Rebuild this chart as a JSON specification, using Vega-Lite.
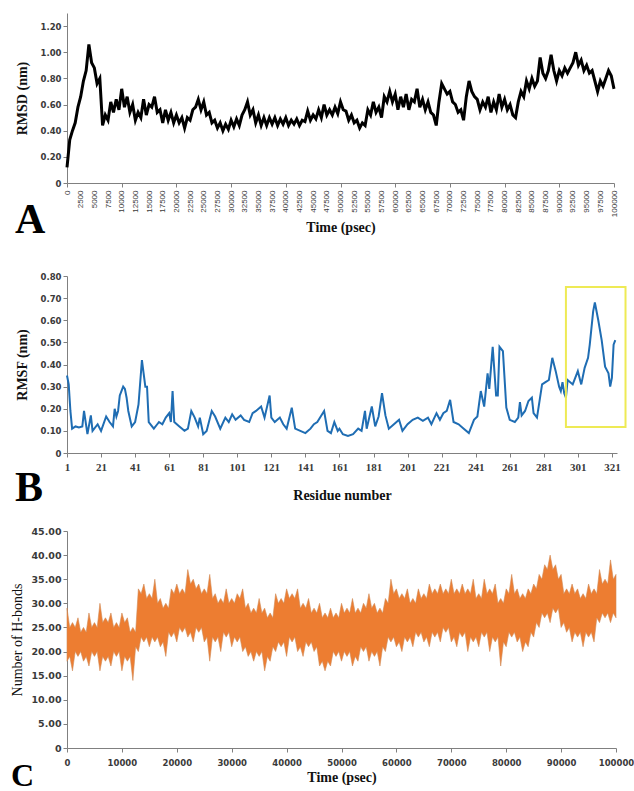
{
  "$schema": "https://vega.github.io/schema/vega-lite/v6.json",
  "background": "white",
  "padding": {"left": 10, "top": 13, "right": 2, "bottom": 0},
  "spacing": 31,
  "config": {
    "view": {"stroke": null},
    "axis": {"grid": false, "domainColor": "#808080", "tickColor": "#808080", "tickSize": 4, "labelColor": "#3a3a3a", "titleColor": "#111111", "labelFlush": false, "labelOverlap": false}
  },
  "datasets": {
    "rmsd": [
      {"t":0,"v":0.12},{"t":500,"v":0.33},{"t":1000,"v":0.40},{"t":1500,"v":0.46},{"t":2000,"v":0.58},{"t":2500,"v":0.66},{"t":3000,"v":0.78},{"t":3500,"v":0.86},{"t":4000,"v":1.06},{"t":4500,"v":0.92},
      {"t":5000,"v":0.88},{"t":5500,"v":0.76},{"t":6000,"v":0.80},{"t":6500,"v":0.44},{"t":7000,"v":0.52},{"t":7500,"v":0.48},{"t":8000,"v":0.62},{"t":8500,"v":0.54},{"t":9000,"v":0.64},{"t":9500,"v":0.56},
      {"t":10000,"v":0.72},{"t":10500,"v":0.58},{"t":11000,"v":0.66},{"t":11500,"v":0.54},{"t":12000,"v":0.60},{"t":12500,"v":0.48},{"t":13000,"v":0.54},{"t":13500,"v":0.50},{"t":14000,"v":0.64},{"t":14500,"v":0.52},
      {"t":15000,"v":0.60},{"t":15500,"v":0.58},{"t":16000,"v":0.66},{"t":16500,"v":0.54},{"t":17000,"v":0.56},{"t":17500,"v":0.46},{"t":18000,"v":0.56},{"t":18500,"v":0.48},{"t":19000,"v":0.54},{"t":19500,"v":0.46},
      {"t":20000,"v":0.52},{"t":20500,"v":0.46},{"t":21000,"v":0.50},{"t":21500,"v":0.42},{"t":22000,"v":0.50},{"t":22500,"v":0.48},{"t":23000,"v":0.56},{"t":23500,"v":0.58},{"t":24000,"v":0.64},{"t":24500,"v":0.56},
      {"t":25000,"v":0.62},{"t":25500,"v":0.52},{"t":26000,"v":0.54},{"t":26500,"v":0.46},{"t":27000,"v":0.48},{"t":27500,"v":0.42},{"t":28000,"v":0.46},{"t":28500,"v":0.40},{"t":29000,"v":0.45},{"t":29500,"v":0.41},
      {"t":30000,"v":0.48},{"t":30500,"v":0.43},{"t":31000,"v":0.49},{"t":31500,"v":0.44},{"t":32000,"v":0.52},{"t":32500,"v":0.56},{"t":33000,"v":0.62},{"t":33500,"v":0.52},{"t":34000,"v":0.56},{"t":34500,"v":0.46},
      {"t":35000,"v":0.52},{"t":35500,"v":0.44},{"t":36000,"v":0.50},{"t":36500,"v":0.44},{"t":37000,"v":0.50},{"t":37500,"v":0.45},{"t":38000,"v":0.50},{"t":38500,"v":0.44},{"t":39000,"v":0.49},{"t":39500,"v":0.45},
      {"t":40000,"v":0.50},{"t":40500,"v":0.44},{"t":41000,"v":0.48},{"t":41500,"v":0.45},{"t":42000,"v":0.49},{"t":42500,"v":0.44},{"t":43000,"v":0.48},{"t":43500,"v":0.47},{"t":44000,"v":0.55},{"t":44500,"v":0.48},
      {"t":45000,"v":0.52},{"t":45500,"v":0.49},{"t":46000,"v":0.56},{"t":46500,"v":0.50},{"t":47000,"v":0.60},{"t":47500,"v":0.52},{"t":48000,"v":0.56},{"t":48500,"v":0.52},{"t":49000,"v":0.58},{"t":49500,"v":0.53},
      {"t":50000,"v":0.62},{"t":50500,"v":0.56},{"t":51000,"v":0.55},{"t":51500,"v":0.48},{"t":52000,"v":0.52},{"t":52500,"v":0.46},{"t":53000,"v":0.48},{"t":53500,"v":0.42},{"t":54000,"v":0.46},{"t":54500,"v":0.44},
      {"t":55000,"v":0.56},{"t":55500,"v":0.52},{"t":56000,"v":0.62},{"t":56500,"v":0.54},{"t":57000,"v":0.58},{"t":57500,"v":0.50},{"t":58000,"v":0.66},{"t":58500,"v":0.62},{"t":59000,"v":0.70},{"t":59500,"v":0.62},
      {"t":60000,"v":0.68},{"t":60500,"v":0.56},{"t":61000,"v":0.66},{"t":61500,"v":0.58},{"t":62000,"v":0.68},{"t":62500,"v":0.56},{"t":63000,"v":0.64},{"t":63500,"v":0.62},{"t":64000,"v":0.72},{"t":64500,"v":0.58},
      {"t":65000,"v":0.64},{"t":65500,"v":0.56},{"t":66000,"v":0.62},{"t":66500,"v":0.54},{"t":67000,"v":0.52},{"t":67500,"v":0.44},{"t":68000,"v":0.62},{"t":68500,"v":0.76},{"t":69000,"v":0.72},{"t":69500,"v":0.68},
      {"t":70000,"v":0.70},{"t":70500,"v":0.62},{"t":71000,"v":0.60},{"t":71500,"v":0.54},{"t":72000,"v":0.56},{"t":72500,"v":0.48},{"t":73000,"v":0.66},{"t":73500,"v":0.78},{"t":74000,"v":0.70},{"t":74500,"v":0.66},
      {"t":75000,"v":0.64},{"t":75500,"v":0.56},{"t":76000,"v":0.62},{"t":76500,"v":0.58},{"t":77000,"v":0.66},{"t":77500,"v":0.54},{"t":78000,"v":0.62},{"t":78500,"v":0.56},{"t":79000,"v":0.68},{"t":79500,"v":0.58},
      {"t":80000,"v":0.64},{"t":80500,"v":0.56},{"t":81000,"v":0.60},{"t":81500,"v":0.52},{"t":82000,"v":0.50},{"t":82500,"v":0.62},{"t":83000,"v":0.70},{"t":83500,"v":0.66},{"t":84000,"v":0.78},{"t":84500,"v":0.72},
      {"t":85000,"v":0.80},{"t":85500,"v":0.74},{"t":86000,"v":0.78},{"t":86500,"v":0.96},{"t":87000,"v":0.84},{"t":87500,"v":0.80},{"t":88000,"v":0.86},{"t":88500,"v":0.98},{"t":89000,"v":0.86},{"t":89500,"v":0.78},
      {"t":90000,"v":0.86},{"t":90500,"v":0.82},{"t":91000,"v":0.88},{"t":91500,"v":0.84},{"t":92000,"v":0.88},{"t":92500,"v":0.92},{"t":93000,"v":1.00},{"t":93500,"v":0.90},{"t":94000,"v":0.94},{"t":94500,"v":0.86},
      {"t":95000,"v":0.90},{"t":95500,"v":0.84},{"t":96000,"v":0.86},{"t":96500,"v":0.78},{"t":97000,"v":0.70},{"t":97500,"v":0.78},{"t":98000,"v":0.74},{"t":98500,"v":0.80},{"t":99000,"v":0.86},{"t":99500,"v":0.82},
      {"t":100000,"v":0.72}
    ],
    "rmsf": [
      {"r":1,"v":0.35},{"r":2,"v":0.31},{"r":3,"v":0.19},{"r":4,"v":0.11},{"r":6,"v":0.12},{"r":8,"v":0.115},{"r":10,"v":0.12},{"r":11,"v":0.19},{"r":13,"v":0.085},{"r":15,"v":0.17},
      {"r":16,"v":0.10},{"r":19,"v":0.13},{"r":21,"v":0.10},{"r":24,"v":0.165},{"r":26,"v":0.14},{"r":28,"v":0.12},{"r":29,"v":0.20},{"r":30,"v":0.165},{"r":31,"v":0.19},{"r":32,"v":0.26},
      {"r":34,"v":0.30},{"r":35,"v":0.29},{"r":36,"v":0.25},{"r":37,"v":0.19},{"r":39,"v":0.12},{"r":41,"v":0.14},{"r":43,"v":0.22},{"r":45,"v":0.42},{"r":46,"v":0.36},{"r":47,"v":0.30},
      {"r":48,"v":0.30},{"r":49,"v":0.14},{"r":52,"v":0.11},{"r":54,"v":0.13},{"r":55,"v":0.14},{"r":57,"v":0.13},{"r":59,"v":0.16},{"r":61,"v":0.18},{"r":62,"v":0.14},{"r":63,"v":0.28},
      {"r":64,"v":0.14},{"r":67,"v":0.12},{"r":70,"v":0.10},{"r":72,"v":0.11},{"r":74,"v":0.19},{"r":76,"v":0.16},{"r":78,"v":0.12},{"r":79,"v":0.16},{"r":81,"v":0.085},{"r":83,"v":0.10},
      {"r":86,"v":0.19},{"r":88,"v":0.165},{"r":91,"v":0.11},{"r":94,"v":0.16},{"r":96,"v":0.14},{"r":98,"v":0.175},{"r":100,"v":0.15},{"r":103,"v":0.17},{"r":105,"v":0.15},{"r":108,"v":0.14},
      {"r":110,"v":0.18},{"r":112,"v":0.19},{"r":115,"v":0.21},{"r":117,"v":0.16},{"r":120,"v":0.26},{"r":121,"v":0.16},{"r":123,"v":0.14},{"r":126,"v":0.16},{"r":128,"v":0.13},{"r":130,"v":0.11},
      {"r":133,"v":0.205},{"r":135,"v":0.11},{"r":138,"v":0.10},{"r":141,"v":0.09},{"r":144,"v":0.11},{"r":146,"v":0.13},{"r":148,"v":0.14},{"r":150,"v":0.165},{"r":152,"v":0.19},{"r":154,"v":0.10},
      {"r":156,"v":0.09},{"r":158,"v":0.14},{"r":160,"v":0.10},{"r":161,"v":0.11},{"r":163,"v":0.085},{"r":166,"v":0.077},{"r":169,"v":0.085},{"r":172,"v":0.11},{"r":174,"v":0.10},{"r":176,"v":0.19},
      {"r":177,"v":0.11},{"r":180,"v":0.21},{"r":182,"v":0.12},{"r":184,"v":0.165},{"r":186,"v":0.27},{"r":188,"v":0.17},{"r":190,"v":0.11},{"r":193,"v":0.13},{"r":196,"v":0.15},{"r":198,"v":0.10},
      {"r":201,"v":0.13},{"r":204,"v":0.15},{"r":207,"v":0.16},{"r":210,"v":0.145},{"r":213,"v":0.16},{"r":215,"v":0.13},{"r":218,"v":0.18},{"r":220,"v":0.15},{"r":222,"v":0.18},{"r":224,"v":0.19},
      {"r":226,"v":0.24},{"r":228,"v":0.14},{"r":231,"v":0.13},{"r":234,"v":0.11},{"r":237,"v":0.09},{"r":240,"v":0.15},{"r":242,"v":0.165},{"r":244,"v":0.28},{"r":246,"v":0.21},{"r":248,"v":0.36},
      {"r":249,"v":0.29},{"r":251,"v":0.48},{"r":253,"v":0.26},{"r":254,"v":0.26},{"r":255,"v":0.48},{"r":257,"v":0.46},{"r":259,"v":0.205},{"r":261,"v":0.15},{"r":264,"v":0.14},{"r":266,"v":0.16},
      {"r":267,"v":0.23},{"r":268,"v":0.17},{"r":270,"v":0.19},{"r":272,"v":0.235},{"r":274,"v":0.25},{"r":275,"v":0.18},{"r":277,"v":0.16},{"r":278,"v":0.21},{"r":280,"v":0.31},{"r":282,"v":0.32},
      {"r":284,"v":0.33},{"r":286,"v":0.43},{"r":288,"v":0.37},{"r":290,"v":0.30},{"r":291,"v":0.28},{"r":292,"v":0.32},{"r":293,"v":0.27},{"r":294,"v":0.25},{"r":295,"v":0.33},{"r":298,"v":0.31},
      {"r":301,"v":0.37},{"r":303,"v":0.31},{"r":305,"v":0.385},{"r":307,"v":0.43},{"r":308,"v":0.49},{"r":310,"v":0.64},{"r":311,"v":0.68},{"r":313,"v":0.60},{"r":315,"v":0.51},{"r":317,"v":0.39},
      {"r":319,"v":0.36},{"r":320,"v":0.30},{"r":321,"v":0.34},{"r":322,"v":0.49},{"r":323,"v":0.51}
    ],
    "box": [{"x1":294,"x2":329,"y1":0.117,"y2":0.75}],
    "hb": [
      {"t":0,"lo":18,"hi":29},{"t":500,"lo":19,"hi":25},{"t":1000,"lo":16,"hi":26},{"t":1500,"lo":20,"hi":25},{"t":2000,"lo":19,"hi":27},{"t":2500,"lo":20,"hi":24},{"t":3000,"lo":18,"hi":25},{"t":3500,"lo":19,"hi":24},{"t":4000,"lo":17,"hi":28},{"t":4500,"lo":20,"hi":25},
      {"t":5000,"lo":19,"hi":26},{"t":5500,"lo":20,"hi":25},{"t":6000,"lo":16,"hi":30},{"t":6500,"lo":19,"hi":26},{"t":7000,"lo":18,"hi":27},{"t":7500,"lo":19,"hi":26},{"t":8000,"lo":17,"hi":28},{"t":8500,"lo":20,"hi":25},{"t":9000,"lo":19,"hi":26},{"t":9500,"lo":20,"hi":25},
      {"t":10000,"lo":16,"hi":28},{"t":10500,"lo":19,"hi":26},{"t":11000,"lo":18,"hi":27},{"t":11500,"lo":19,"hi":24},{"t":12000,"lo":14,"hi":25},{"t":12500,"lo":21,"hi":24},{"t":13000,"lo":20,"hi":33},{"t":13500,"lo":23,"hi":32},{"t":14000,"lo":22,"hi":34},{"t":14500,"lo":23,"hi":31},
      {"t":15000,"lo":21,"hi":32},{"t":15500,"lo":23,"hi":31},{"t":16000,"lo":22,"hi":35},{"t":16500,"lo":23,"hi":30},{"t":17000,"lo":21,"hi":31},{"t":17500,"lo":22,"hi":29},{"t":18000,"lo":19,"hi":30},{"t":18500,"lo":24,"hi":29},{"t":19000,"lo":23,"hi":33},{"t":19500,"lo":24,"hi":32},
      {"t":20000,"lo":22,"hi":34},{"t":20500,"lo":25,"hi":32},{"t":21000,"lo":24,"hi":33},{"t":21500,"lo":25,"hi":32},{"t":22000,"lo":23,"hi":37},{"t":22500,"lo":24,"hi":34},{"t":23000,"lo":22,"hi":35},{"t":23500,"lo":25,"hi":33},{"t":24000,"lo":24,"hi":34},{"t":24500,"lo":25,"hi":32},
      {"t":25000,"lo":22,"hi":33},{"t":25500,"lo":23,"hi":32},{"t":26000,"lo":18,"hi":36},{"t":26500,"lo":23,"hi":31},{"t":27000,"lo":22,"hi":32},{"t":27500,"lo":23,"hi":30},{"t":28000,"lo":20,"hi":31},{"t":28500,"lo":24,"hi":30},{"t":29000,"lo":23,"hi":33},{"t":29500,"lo":24,"hi":30},
      {"t":30000,"lo":21,"hi":31},{"t":30500,"lo":23,"hi":30},{"t":31000,"lo":22,"hi":32},{"t":31500,"lo":23,"hi":31},{"t":32000,"lo":20,"hi":33},{"t":32500,"lo":21,"hi":29},{"t":33000,"lo":19,"hi":30},{"t":33500,"lo":20,"hi":28},{"t":34000,"lo":18,"hi":29},{"t":34500,"lo":20,"hi":28},
      {"t":35000,"lo":19,"hi":31},{"t":35500,"lo":20,"hi":28},{"t":36000,"lo":16,"hi":29},{"t":36500,"lo":19,"hi":27},{"t":37000,"lo":18,"hi":28},{"t":37500,"lo":21,"hi":27},{"t":38000,"lo":20,"hi":32},{"t":38500,"lo":22,"hi":30},{"t":39000,"lo":21,"hi":31},{"t":39500,"lo":22,"hi":30},
      {"t":40000,"lo":19,"hi":33},{"t":40500,"lo":23,"hi":31},{"t":41000,"lo":22,"hi":32},{"t":41500,"lo":23,"hi":31},{"t":42000,"lo":20,"hi":33},{"t":42500,"lo":21,"hi":29},{"t":43000,"lo":19,"hi":30},{"t":43500,"lo":22,"hi":29},{"t":44000,"lo":21,"hi":31},{"t":44500,"lo":22,"hi":28},
      {"t":45000,"lo":20,"hi":29},{"t":45500,"lo":21,"hi":28},{"t":46000,"lo":17,"hi":30},{"t":46500,"lo":18,"hi":27},{"t":47000,"lo":16,"hi":28},{"t":47500,"lo":18,"hi":27},{"t":48000,"lo":17,"hi":29},{"t":48500,"lo":20,"hi":27},{"t":49000,"lo":19,"hi":28},{"t":49500,"lo":20,"hi":27},
      {"t":50000,"lo":18,"hi":30},{"t":50500,"lo":20,"hi":28},{"t":51000,"lo":19,"hi":29},{"t":51500,"lo":20,"hi":28},{"t":52000,"lo":17,"hi":31},{"t":52500,"lo":19,"hi":28},{"t":53000,"lo":18,"hi":29},{"t":53500,"lo":21,"hi":28},{"t":54000,"lo":20,"hi":30},{"t":54500,"lo":21,"hi":29},
      {"t":55000,"lo":18,"hi":32},{"t":55500,"lo":20,"hi":29},{"t":56000,"lo":19,"hi":30},{"t":56500,"lo":20,"hi":28},{"t":57000,"lo":17,"hi":29},{"t":57500,"lo":21,"hi":28},{"t":58000,"lo":20,"hi":31},{"t":58500,"lo":23,"hi":30},{"t":59000,"lo":22,"hi":35},{"t":59500,"lo":23,"hi":32},
      {"t":60000,"lo":21,"hi":33},{"t":60500,"lo":22,"hi":31},{"t":61000,"lo":20,"hi":32},{"t":61500,"lo":23,"hi":31},{"t":62000,"lo":22,"hi":33},{"t":62500,"lo":23,"hi":30},{"t":63000,"lo":21,"hi":31},{"t":63500,"lo":24,"hi":30},{"t":64000,"lo":23,"hi":33},{"t":64500,"lo":24,"hi":31},
      {"t":65000,"lo":22,"hi":32},{"t":65500,"lo":23,"hi":31},{"t":66000,"lo":21,"hi":34},{"t":66500,"lo":24,"hi":32},{"t":67000,"lo":23,"hi":33},{"t":67500,"lo":24,"hi":32},{"t":68000,"lo":22,"hi":34},{"t":68500,"lo":25,"hi":32},{"t":69000,"lo":24,"hi":33},{"t":69500,"lo":25,"hi":32},
      {"t":70000,"lo":22,"hi":35},{"t":70500,"lo":23,"hi":32},{"t":71000,"lo":21,"hi":33},{"t":71500,"lo":24,"hi":32},{"t":72000,"lo":23,"hi":34},{"t":72500,"lo":24,"hi":32},{"t":73000,"lo":20,"hi":33},{"t":73500,"lo":23,"hi":32},{"t":74000,"lo":22,"hi":35},{"t":74500,"lo":23,"hi":31},
      {"t":75000,"lo":21,"hi":32},{"t":75500,"lo":24,"hi":31},{"t":76000,"lo":23,"hi":35},{"t":76500,"lo":24,"hi":32},{"t":77000,"lo":20,"hi":33},{"t":77500,"lo":23,"hi":32},{"t":78000,"lo":22,"hi":34},{"t":78500,"lo":23,"hi":30},{"t":79000,"lo":17,"hi":31},{"t":79500,"lo":22,"hi":30},
      {"t":80000,"lo":21,"hi":33},{"t":80500,"lo":24,"hi":32},{"t":81000,"lo":23,"hi":36},{"t":81500,"lo":24,"hi":32},{"t":82000,"lo":22,"hi":33},{"t":82500,"lo":23,"hi":31},{"t":83000,"lo":20,"hi":32},{"t":83500,"lo":22,"hi":31},{"t":84000,"lo":21,"hi":33},{"t":84500,"lo":24,"hi":32},
      {"t":85000,"lo":23,"hi":34},{"t":85500,"lo":26,"hi":33},{"t":86000,"lo":25,"hi":36},{"t":86500,"lo":28,"hi":35},{"t":87000,"lo":27,"hi":38},{"t":87500,"lo":28,"hi":37},{"t":88000,"lo":26,"hi":40},{"t":88500,"lo":29,"hi":37},{"t":89000,"lo":28,"hi":38},{"t":89500,"lo":29,"hi":35},
      {"t":90000,"lo":25,"hi":36},{"t":90500,"lo":26,"hi":32},{"t":91000,"lo":24,"hi":33},{"t":91500,"lo":25,"hi":32},{"t":92000,"lo":22,"hi":34},{"t":92500,"lo":24,"hi":32},{"t":93000,"lo":23,"hi":33},{"t":93500,"lo":24,"hi":31},{"t":94000,"lo":21,"hi":32},{"t":94500,"lo":24,"hi":31},
      {"t":95000,"lo":23,"hi":34},{"t":95500,"lo":24,"hi":32},{"t":96000,"lo":22,"hi":33},{"t":96500,"lo":27,"hi":32},{"t":97000,"lo":26,"hi":37},{"t":97500,"lo":28,"hi":34},{"t":98000,"lo":27,"hi":35},{"t":98500,"lo":28,"hi":34},{"t":99000,"lo":26,"hi":39},{"t":99500,"lo":28,"hi":35},
      {"t":100000,"lo":27,"hi":36}
    ]
  },
  "vconcat": [
    {
      "width": 547,
      "height": 170,
      "data": {"name": "rmsd"},
      "title": {"text": "A", "orient": "bottom", "anchor": "start", "frame": "bounds", "font": "Liberation Serif", "fontSize": 42, "fontWeight": "bold", "color": "#000000", "offset": -35},
      "mark": {"type": "line", "color": "#000000", "strokeWidth": 3},
      "encoding": {
        "x": {
          "field": "t", "type": "quantitative",
          "scale": {"domain": [0, 100000], "nice": false, "zero": false},
          "axis": {
            "title": "Time (psec)",
            "values": [0,2500,5000,7500,10000,12500,15000,17500,20000,22500,25000,27500,30000,32500,35000,37500,40000,42500,45000,47500,50000,52500,55000,57500,60000,62500,65000,67500,70000,72500,75000,77500,80000,82500,85000,87500,90000,92500,95000,97500,100000],
            "format": "d",
            "labelAngle": -90, "labelFont": "Liberation Sans", "labelFontSize": 8, "labelOverlap": false, "labelPadding": 3,
            "tickOpacity": {"condition": {"test": "datum.value % 10000 === 0", "value": 1}, "value": 0},
            "titleFont": "Liberation Serif", "titleFontSize": 14, "titleFontWeight": "bold", "titlePadding": 4
          }
        },
        "y": {
          "field": "v", "type": "quantitative",
          "scale": {"domain": [0, 1.3], "nice": false},
          "axis": {
            "title": "RMSD (nm)",
            "values": [0, 0.2, 0.4, 0.6, 0.8, 1, 1.2],
            "labelExpr": "datum.value === 0 ? '0' : format(datum.value, '.2f')",
            "labelFont": "DejaVu Sans", "labelFontSize": 8.5, "labelFontWeight": "bold", "labelPadding": 2,
            "titleFont": "Liberation Serif", "titleFontSize": 14, "titleFontWeight": "bold", "titlePadding": 11
          }
        }
      }
    },
    {
      "spacing": 17,
      "vconcat": [
        {
          "width": 550,
          "height": 177,
          "title": {"text": "B", "orient": "bottom", "anchor": "start", "frame": "bounds", "font": "Liberation Serif", "fontSize": 42, "fontWeight": "bold", "color": "#000000", "offset": -34},
          "layer": [
            {
              "data": {"name": "rmsf"},
              "mark": {"type": "line", "color": "#1f6db3", "strokeWidth": 2},
              "encoding": {
                "x": {
                  "field": "r", "type": "quantitative",
                  "scale": {"domain": [1, 324], "nice": false, "zero": false},
                  "axis": {
                    "title": "Residue number",
                    "values": [1,21,41,61,81,101,121,141,161,181,201,221,241,261,281,301,321],
                    "labelFont": "Liberation Serif", "labelFontSize": 11, "labelFontWeight": "bold", "labelPadding": 4, "labelOverlap": false,
                    "titleFont": "Liberation Serif", "titleFontSize": 14, "titleFontWeight": "bold", "titlePadding": 16
                  }
                },
                "y": {
                  "field": "v", "type": "quantitative",
                  "scale": {"domain": [0, 0.8], "nice": false},
                  "axis": {
                    "title": "RMSF (nm)",
                    "values": [0, 0.1, 0.2, 0.3, 0.4, 0.5, 0.6, 0.7, 0.8],
                    "labelExpr": "datum.value === 0 ? '0' : format(datum.value, '.2f')",
                    "labelFont": "DejaVu Sans", "labelFontSize": 8.5, "labelFontWeight": "bold", "labelPadding": 2, "labelOverlap": false,
                    "titleFont": "Liberation Serif", "titleFontSize": 14, "titleFontWeight": "bold", "titlePadding": 11
                  }
                }
              }
            },
            {
              "data": {"name": "box"},
              "mark": {"type": "rect", "fill": null, "fillOpacity": 0, "stroke": "#eeea55", "strokeWidth": 2, "clip": false},
              "encoding": {
                "x": {
                  "field": "x1", "type": "quantitative",
                  "axis": {
                    "title": "Residue number",
                    "values": [1,21,41,61,81,101,121,141,161,181,201,221,241,261,281,301,321],
                    "labelFont": "Liberation Serif", "labelFontSize": 11, "labelFontWeight": "bold", "labelPadding": 4, "labelOverlap": false,
                    "titleFont": "Liberation Serif", "titleFontSize": 14, "titleFontWeight": "bold", "titlePadding": 16
                  }
                },
                "x2": {"field": "x2"},
                "y": {
                  "field": "y1", "type": "quantitative",
                  "axis": {
                    "title": "RMSF (nm)",
                    "values": [0, 0.1, 0.2, 0.3, 0.4, 0.5, 0.6, 0.7, 0.8],
                    "labelExpr": "datum.value === 0 ? '0' : format(datum.value, '.2f')",
                    "labelFont": "DejaVu Sans", "labelFontSize": 8.5, "labelFontWeight": "bold", "labelPadding": 2, "labelOverlap": false,
                    "titleFont": "Liberation Serif", "titleFontSize": 14, "titleFontWeight": "bold", "titlePadding": 11
                  }
                },
                "y2": {"field": "y2"}
              }
            }
          ]
        },
        {
          "width": 549,
          "height": 217,
          "data": {"name": "hb"},
          "title": {"text": "C", "orient": "bottom", "anchor": "start", "frame": "bounds", "font": "Liberation Serif", "fontSize": 32, "fontWeight": "bold", "color": "#000000", "offset": -24},
          "mark": {"type": "area", "color": "#ED7D31", "stroke": "#d08a55", "strokeWidth": 0.6, "opacity": 1},
          "encoding": {
            "x": {
              "field": "t", "type": "quantitative",
              "scale": {"domain": [0, 100000], "nice": false, "zero": false},
              "axis": {
                "title": "Time (psec)",
                "values": [0,10000,20000,30000,40000,50000,60000,70000,80000,90000,100000],
                "format": "d",
                "labelFont": "DejaVu Sans", "labelFontSize": 8.5, "labelFontWeight": "bold", "labelPadding": 6,
                "titleFont": "Liberation Serif", "titleFontSize": 14, "titleFontWeight": "bold", "titlePadding": 4
              }
            },
            "y": {
              "field": "lo", "type": "quantitative",
              "scale": {"domain": [0, 45], "nice": false},
              "axis": {
                "title": "Number of H-bonds",
                "values": [0, 5, 10, 15, 20, 25, 30, 35, 40, 45],
                "labelExpr": "datum.value === 0 ? '0' : format(datum.value, '.2f')",
                "labelFont": "DejaVu Sans", "labelFontSize": 9.5, "labelFontWeight": "bold", "labelPadding": 2,
                "titleFont": "Liberation Serif", "titleFontSize": 14, "titleFontWeight": "normal", "titlePadding": 6
              }
            },
            "y2": {"field": "hi"}
          }
        }
      ]
    }
  ]
}
